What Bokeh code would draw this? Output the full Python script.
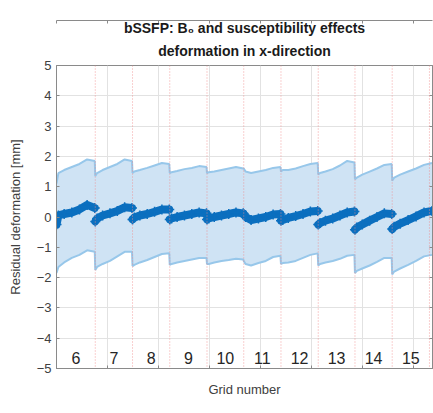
from bokeh.plotting import figure
from bokeh.models import Span, LinearAxis, Title, Range1d, FixedTicker, ColumnDataSource
from bokeh.embed import file_html
from bokeh.resources import INLINE
from bokeh.core.properties import value

# ---- data ----
grid_numbers = [6, 7, 8, 9, 10, 11, 12, 13, 14, 15]
grid_bounds = [0, 76, 149, 222, 295, 367, 440, 513, 585, 658, 731]
x_end = 737
sample_fracs = [0.0, 0.05, 0.2, 0.4, 0.6, 0.8, 1.0]

mean_vals = [
    [-0.25, 0.05, 0.10, 0.15, 0.25, 0.40, 0.30],
    [-0.15, -0.05, 0.05, 0.12, 0.20, 0.32, 0.30],
    [-0.08, -0.02, 0.05, 0.10, 0.17, 0.25, 0.25],
    [-0.08, -0.05, 0.00, 0.05, 0.10, 0.15, 0.12],
    [-0.08, -0.05, 0.00, 0.05, 0.10, 0.15, 0.12],
    [0.10, 0.00, -0.10, -0.05, 0.00, 0.08, 0.10],
    [-0.12, -0.10, -0.03, 0.03, 0.10, 0.18, 0.20],
    [-0.25, -0.20, -0.12, -0.05, 0.05, 0.15, 0.18],
    [-0.42, -0.35, -0.25, -0.12, 0.00, 0.12, 0.10],
    [-0.40, -0.32, -0.22, -0.10, 0.02, 0.15, 0.20],
]
upper_vals = [
    [1.10, 1.45, 1.55, 1.65, 1.75, 1.90, 1.85],
    [1.35, 1.45, 1.55, 1.65, 1.75, 1.90, 1.85],
    [1.45, 1.50, 1.55, 1.62, 1.70, 1.78, 1.75],
    [1.45, 1.48, 1.52, 1.58, 1.62, 1.68, 1.65],
    [1.45, 1.48, 1.50, 1.55, 1.60, 1.65, 1.60],
    [1.60, 1.50, 1.45, 1.50, 1.55, 1.62, 1.65],
    [1.50, 1.55, 1.55, 1.60, 1.68, 1.75, 1.78],
    [1.40, 1.45, 1.50, 1.58, 1.70, 1.85, 1.80],
    [1.25, 1.30, 1.40, 1.50, 1.60, 1.72, 1.75],
    [1.20, 1.30, 1.40, 1.50, 1.60, 1.72, 1.78],
]
lower_vals = [
    [-1.85, -1.65, -1.50, -1.35, -1.25, -1.10, -1.15],
    [-1.75, -1.65, -1.55, -1.45, -1.30, -1.15, -1.15],
    [-1.62, -1.58, -1.50, -1.42, -1.32, -1.22, -1.20],
    [-1.58, -1.55, -1.50, -1.45, -1.40, -1.35, -1.35],
    [-1.55, -1.55, -1.50, -1.45, -1.42, -1.38, -1.40],
    [-1.45, -1.55, -1.60, -1.52, -1.45, -1.32, -1.28],
    [-1.55, -1.52, -1.50, -1.45, -1.35, -1.25, -1.20],
    [-1.60, -1.55, -1.50, -1.45, -1.38, -1.28, -1.25],
    [-1.85, -1.78, -1.70, -1.60, -1.48, -1.35, -1.35],
    [-1.90, -1.80, -1.70, -1.58, -1.45, -1.30, -1.25],
]
y_ticks = [-5, -4, -3, -2, -1, 0, 1, 2, 3, 4, 5]
x_ticks = [0, 100, 200, 300, 400, 500, 600, 700]
title_lines = ["bSSFP: B\u2080 and susceptibility effects", "deformation in x-direction"]

# ---- build series ----
xs, ms, us, ls = [], [], [], []
mx, my = [], []
for i in range(len(grid_numbers)):
    s = grid_bounds[i]
    e = grid_bounds[i + 1] if i < len(grid_numbers) - 1 else x_end
    gx = [s + f * (e - s - 1) for f in sample_fracs]
    mx.append(gx)
    my.append(mean_vals[i])
    xs.extend(gx)
    ms.extend(mean_vals[i])
    us.extend(upper_vals[i])
    ls.extend(lower_vals[i])
src = ColumnDataSource(dict(x=xs, mean=ms, upper=us, lower=ls))

FONT = "Liberation Sans"
AX = "#8a8a8a"
TXT = "#404040"

p = figure(width=433, height=413, output_backend="svg", toolbar_location=None,
           x_range=Range1d(0, x_end), y_range=Range1d(-5, 5),
           min_border_left=56, min_border_right=1, min_border_top=65, min_border_bottom=45,
           title=None, background_fill_color="white", border_fill_color="white")
p.outline_line_color = AX

p.add_layout(Title(text=title_lines[1], align="center", offset=-6,
                   text_font=FONT, text_font_size="14px", text_font_style="bold",
                   text_color="#1a1a1a", standoff=14), "above")
p.add_layout(Title(text=title_lines[0], align="center", offset=-6,
                   text_font=FONT, text_font_size="14px", text_font_style="bold",
                   text_color="#1a1a1a", standoff=-5), "above")

# grid
p.xgrid.ticker = FixedTicker(ticks=x_ticks)
p.ygrid.ticker = FixedTicker(ticks=y_ticks)
for g in (p.xgrid, p.ygrid):
    g.grid_line_color = "#e2e2e2"
    g.grid_line_width = 1

# axes
for ax in (p.xaxis, p.yaxis):
    ax.axis_line_color = AX
    ax.major_tick_line_color = AX
    ax.major_tick_in = 3
    ax.major_tick_out = 0
    ax.minor_tick_line_color = None
    ax.major_label_text_font = FONT
    ax.major_label_text_font_size = "13px"
    ax.major_label_text_color = TXT
    ax.axis_label_text_font = FONT
    ax.axis_label_text_font_size = "13px"
    ax.axis_label_text_color = TXT
    ax.axis_label_text_font_style = "normal"

blank_x = {t: "" for t in x_ticks}
blank_y = {t: "" for t in y_ticks}

p.xaxis.ticker = FixedTicker(ticks=x_ticks)
p.xaxis.major_label_overrides = blank_x
p.xaxis.major_label_standoff = 0
p.xaxis.axis_label = "Grid number"
p.xaxis.axis_label_standoff = 13

p.yaxis.ticker = FixedTicker(ticks=y_ticks)
p.yaxis.major_label_standoff = 5
p.yaxis.axis_label = "Residual deformation [mm]"
p.yaxis.axis_label_standoff = 11

top = LinearAxis(ticker=FixedTicker(ticks=x_ticks), major_label_overrides=blank_x,
                 axis_line_color=AX, major_tick_line_color=AX, major_tick_in=3,
                 major_tick_out=0, minor_tick_line_color=None, major_label_standoff=0)
right = LinearAxis(ticker=FixedTicker(ticks=y_ticks), major_label_overrides=blank_y,
                   axis_line_color=AX, major_tick_line_color=AX, major_tick_in=3,
                   major_tick_out=0, minor_tick_line_color=None, major_label_standoff=0)
p.add_layout(top, "above")
p.add_layout(right, "right")

# red dotted grid separators
for b in grid_bounds[1:]:
    p.add_layout(Span(location=b, dimension="height", line_color="#f08a8a",
                      line_alpha=0.8, line_width=1, line_dash="1 2"))

# band
p.varea(x="x", y1="lower", y2="upper", source=src, fill_color="#cfe3f4", fill_alpha=1.0)
p.line(x="x", y="upper", source=src, line_color="#97c7ea", line_width=2)
p.line(x="x", y="lower", source=src, line_color="#97c7ea", line_width=2)

# mean (one stretch per grid)
p.multi_line(xs=mx, ys=my, line_color="#0b6fbf", line_width=8, line_join="round", line_cap="round")
p.scatter(x="x", y="mean", source=src, marker="cross", size=10, line_color="#0b6fbf", line_width=1.5)

# grid numbers
label_x = [(grid_bounds[i] + grid_bounds[i + 1]) / 2 for i in range(len(grid_numbers))]
label_y = [-4.65] * len(grid_numbers)
p.text(x=label_x, y=label_y, text=[str(g) for g in grid_numbers], text_align="center",
       text_baseline="middle", text_font=value(FONT), text_font_size="16px", text_color="#262626")

open("out.html", "w").write(file_html(p, INLINE))
